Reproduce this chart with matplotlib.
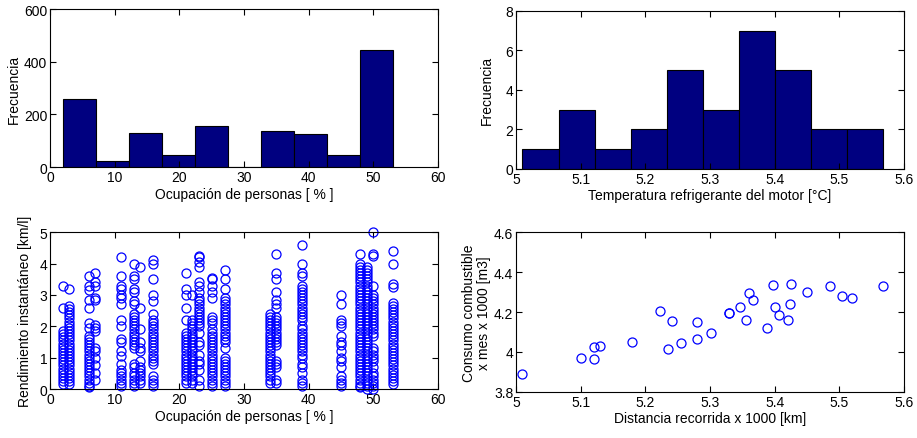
import matplotlib.pyplot as plt
from matplotlib.ticker import FixedLocator, FuncFormatter

plt.rcParams["font.family"] = ["Liberation Sans", "DejaVu Sans"]
plt.rcParams["font.size"] = 10

# Histograma de ocupacion (conteos)
occ_edges = [2, 7.1, 12.2, 17.3, 22.4, 27.5, 32.6, 37.7, 42.8, 47.9, 53]
occ_counts = [257, 24, 130, 46, 155, 0, 138, 125, 45, 446]

# Distancia recorrida x 1000 [km] y consumo x mes x 1000 [m3]
dist = [5.01, 5.10, 5.12, 5.12, 5.13, 5.18, 5.222, 5.235, 5.242, 5.255,
        5.28, 5.28, 5.302, 5.33, 5.33, 5.347, 5.356, 5.36, 5.367, 5.388,
        5.397, 5.40, 5.407, 5.42, 5.424, 5.426, 5.45, 5.485, 5.505, 5.52, 5.568]
cons = [3.89, 3.97, 3.965, 4.025, 4.03, 4.05, 4.205, 4.015, 4.155, 4.045,
        4.15, 4.065, 4.095, 4.195, 4.195, 4.225, 4.16, 4.295, 4.26, 4.12,
        4.335, 4.225, 4.185, 4.16, 4.24, 4.34, 4.30, 4.33, 4.28, 4.27, 4.33]

# Rendimiento instantaneo por columna de ocupacion
col_x = [2, 3, 6, 7, 11, 13, 14, 16, 21, 22, 23, 25, 27, 34, 35, 39, 45, 48, 49, 50, 53]
col_y = [
    [3.3, 2.6, 1.85, 1.75, 1.65, 1.55, 1.45, 1.35, 1.25, 1.15, 1.05, 0.95, 0.85, 0.75,
     0.65, 0.55, 0.45, 0.35, 0.25, 0.15],
    [3.2, 2.65, 2.55, 2.45, 2.35, 2.25, 2.15, 2.05, 1.95, 1.85, 1.75, 1.65, 1.55, 1.45,
     1.35, 1.25, 1.15, 1.05, 0.95, 0.85, 0.75, 0.65, 0.55, 0.45, 0.35, 0.25, 0.15],
    [3.6, 3.3, 3.15, 2.85, 2.6, 2.1, 1.95, 1.7, 1.6, 1.5, 1.4, 1.3, 1.2, 1.1, 1.0, 0.9,
     0.8, 0.7, 0.6, 0.5, 0.4, 0.3, 0.2, 0.1, 0.05],
    [3.7, 3.4, 3.3, 2.9, 2.85, 2.05, 1.95, 1.85, 1.3, 1.2, 1.0, 0.75, 0.5, 0.3],
    [4.2, 3.6, 3.3, 3.2, 3.0, 2.9, 2.7, 2.2, 2.0, 1.6, 1.5, 1.2, 1.05, 0.8, 0.6, 0.5,
     0.4, 0.3, 0.2, 0.1],
    [4.0, 3.6, 3.5, 3.2, 3.1, 2.8, 2.7, 2.4, 2.3, 2.2, 2.1, 2.0, 1.9, 1.8, 1.7, 1.6,
     1.5, 1.4, 1.3, 0.8, 0.7, 0.5, 0.4, 0.3, 0.2, 0.1],
    [3.9, 2.6, 1.9, 1.5, 1.3, 1.2, 0.9, 0.7, 0.6, 0.5, 0.4, 0.3, 0.2],
    [4.1, 4.0, 3.5, 3.0, 2.8, 2.4, 2.2, 2.1, 2.0, 1.9, 1.8, 1.7, 1.6, 1.5, 1.4, 1.3,
     1.2, 1.1, 1.0, 0.9, 0.8, 0.4, 0.3, 0.2, 0.1],
    [3.7, 3.2, 3.0, 2.6, 2.2, 1.8, 1.7, 1.6, 1.5, 1.4, 1.3, 1.2, 1.1, 1.0, 0.9, 0.8,
     0.7, 0.6, 0.5, 0.4, 0.3, 0.2],
    [3.0, 2.2, 2.1, 2.0, 1.9, 1.8, 1.7, 1.6, 1.5, 1.4, 1.3, 1.2, 1.1, 1.0, 0.9, 0.8,
     0.7, 0.6, 0.5, 0.4, 0.3, 0.2],
    [4.25, 4.2, 4.05, 3.9, 3.4, 3.3, 3.1, 2.9, 2.8, 2.7, 2.6, 2.5, 2.4, 2.3, 2.2, 2.1,
     2.0, 1.8, 1.5, 1.4, 1.1, 0.9, 0.8, 0.6, 0.3, 0.1],
    [3.55, 3.5, 3.3, 3.1, 2.9, 2.3, 2.2, 2.1, 1.9, 1.8, 1.7, 1.6, 1.5, 1.4, 1.3, 1.2,
     1.1, 1.0, 0.9, 0.8, 0.7, 0.6, 0.5, 0.4, 0.3, 0.2, 0.1],
    [3.8, 3.5, 3.2, 2.9, 2.8, 2.7, 2.6, 2.5, 2.4, 2.3, 2.2, 2.1, 2.0, 1.9, 1.8, 1.7,
     1.6, 1.5, 1.3, 1.0, 0.9, 0.8, 0.7, 0.6, 0.5, 0.4, 0.3, 0.2, 0.1],
    [2.4, 2.3, 2.2, 2.1, 2.0, 1.9, 1.8, 1.7, 1.6, 1.5, 1.4, 1.3, 1.2, 1.1, 1.0, 0.9,
     0.8, 0.7, 0.6, 0.5, 0.4, 0.3, 0.2],
    [4.3, 3.7, 3.5, 3.1, 2.85, 2.7, 2.6, 2.3, 2.2, 2.1, 2.0, 1.9, 1.8, 1.7, 1.6, 1.5,
     1.4, 0.9, 0.8, 0.7, 0.3, 0.2],
    [4.6, 4.0, 3.7, 3.6, 3.3, 3.2, 3.1, 3.0, 2.9, 2.8, 2.7, 2.6, 2.5, 2.4, 2.3, 2.2,
     2.0, 1.9, 1.8, 1.7, 1.6, 1.5, 1.4, 1.3, 1.2, 1.1, 1.0, 0.8, 0.7, 0.5, 0.3, 0.2, 0.1],
    [3.0, 2.7, 2.2, 2.1, 2.0, 1.7, 1.5, 1.4, 1.2, 1.0, 0.9, 0.7, 0.4, 0.3, 0.2, 0.1],
    [4.3, 4.0, 3.9, 3.8, 3.7, 3.6, 3.5, 3.4, 3.3, 3.2, 3.1, 3.0, 2.9, 2.8, 2.7, 2.6,
     2.5, 2.4, 2.3, 2.2, 2.1, 2.0, 1.9, 1.8, 1.7, 1.6, 1.5, 1.4, 1.3, 1.2, 1.1, 1.0,
     0.9, 0.8, 0.7, 0.6, 0.5, 0.4, 0.3, 0.2, 0.1, 0.05],
    [3.9, 3.8, 3.7, 3.6, 3.5, 3.4, 3.3, 3.2, 3.1, 3.0, 2.9, 2.8, 2.7, 2.6, 2.5, 2.4,
     2.3, 2.2, 2.1, 2.0, 1.9, 1.8, 1.7, 1.6, 1.5, 1.4, 1.3, 1.2, 1.1, 1.0, 0.9, 0.8,
     0.7, 0.6, 0.5, 0.4, 0.3, 0.2, 0.1, 0.0],
    [5.0, 4.3, 4.25, 3.3, 3.0, 2.9, 2.8, 2.7, 2.6, 2.5, 2.4, 2.3, 2.2, 2.1, 2.0, 1.9,
     1.8, 1.7, 1.3, 1.2, 1.1, 1.0, 0.9, 0.7, 0.5, 0.4, 0.3, 0.2, 0.1, 0.0],
    [4.4, 4.0, 3.35, 3.25, 2.75, 2.65, 2.55, 2.45, 2.35, 2.25, 2.15, 2.05, 1.95, 1.85,
     1.75, 1.65, 1.55, 1.45, 1.35, 1.25, 1.15, 1.05, 0.95, 0.85, 0.75, 0.65, 0.55,
     0.45, 0.35, 0.25, 0.15],
]

bar_color = "#000080"
fmt = FuncFormatter(lambda v, p: f"{v:g}")


def style(ax, xt, yt):
    ax.xaxis.set_major_locator(FixedLocator(xt))
    ax.yaxis.set_major_locator(FixedLocator(yt))
    ax.xaxis.set_major_formatter(fmt)
    ax.yaxis.set_major_formatter(fmt)
    ax.tick_params(direction="in", top=True, right=True, length=4, width=0.8,
                   labelsize=10, pad=2)
    for s in ax.spines.values():
        s.set_linewidth(0.8)


fig = plt.figure(figsize=(9.17, 4.39), dpi=100)

# arriba izquierda
ax1 = fig.add_axes([0.0545, 0.617, 0.423, 0.36])
widths = [occ_edges[i + 1] - occ_edges[i] for i in range(len(occ_counts))]
ax1.bar(occ_edges[:-1], occ_counts, width=widths, align="edge",
        color=bar_color, edgecolor="black", linewidth=0.8)
ax1.set_xlim(0, 60)
ax1.set_ylim(0, 600)
style(ax1, [0, 10, 20, 30, 40, 50, 60], [0, 200, 400, 600])
ax1.set_xlabel("Ocupación de personas [ % ]", labelpad=2)
ax1.set_ylabel("Frecuencia", labelpad=2)

# arriba derecha
ax2 = fig.add_axes([0.5627, 0.613, 0.423, 0.36])
ax2.hist(dist, bins=10, color=bar_color, edgecolor="black", linewidth=0.8)
ax2.set_xlim(5, 5.6)
ax2.set_ylim(0, 8)
style(ax2, [5, 5.1, 5.2, 5.3, 5.4, 5.5, 5.6], [0, 2, 4, 6, 8])
ax2.set_xlabel("Temperatura refrigerante del motor [°C]", labelpad=2)
ax2.set_ylabel("Frecuencia", labelpad=8)

# abajo izquierda
ax3 = fig.add_axes([0.0545, 0.1116, 0.423, 0.357])
xs, ys = [], []
for x, yl in zip(col_x, col_y):
    xs += [x] * len(yl)
    ys += yl
ax3.plot(xs, ys, "o", mfc="none", mec="blue", ms=6.5, mew=0.9, clip_on=False)
ax3.set_xlim(0, 60)
ax3.set_ylim(0, 5)
style(ax3, [0, 10, 20, 30, 40, 50, 60], [0, 1, 2, 3, 4, 5])
ax3.set_xlabel("Ocupación de personas [ % ]", labelpad=2)
ax3.set_ylabel("Rendimiento instantáneo [km/l]", labelpad=5)

# abajo derecha
ax4 = fig.add_axes([0.5627, 0.105, 0.423, 0.364])
ax4.plot(dist, cons, "o", mfc="none", mec="blue", ms=6.5, mew=0.9, clip_on=False)
ax4.set_xlim(5, 5.6)
ax4.set_ylim(3.8, 4.6)
style(ax4, [5, 5.1, 5.2, 5.3, 5.4, 5.5, 5.6], [3.8, 4, 4.2, 4.4, 4.6])
ax4.set_xlabel("Distancia recorrida x 1000 [km]", labelpad=2)
ax4.set_ylabel("Consumo combustible\nx mes x 1000 [m3]", labelpad=2, linespacing=1.1)

fig.savefig("out.png", dpi=100)
